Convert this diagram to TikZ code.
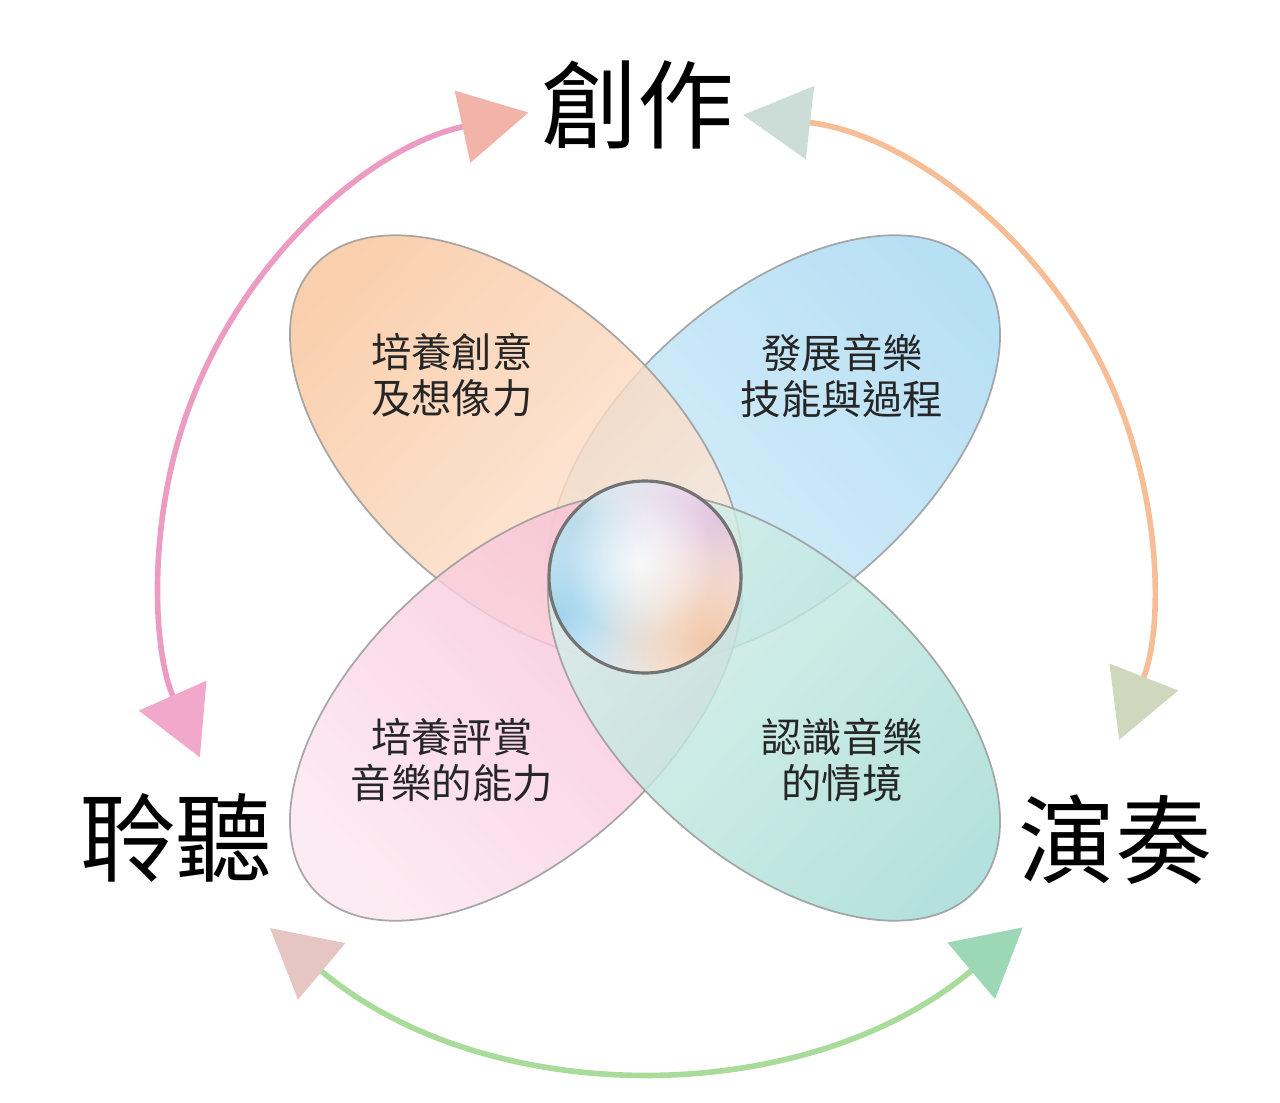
\documentclass[tikz,border=0pt]{standalone}
\usepackage{fontspec}
\newfontfamily\cjk{Noto Sans CJK TC}
\usetikzlibrary{arrows.meta,fadings}
\definecolor{orgA}{HTML}{F9C59B}
\definecolor{orgB}{HTML}{FCEADF}
\definecolor{bluA}{HTML}{A8D9F2}
\definecolor{bluB}{HTML}{D2ECF8}
\definecolor{pnkA}{HTML}{F7BCD3}
\definecolor{pnkB}{HTML}{FCE7F0}
\definecolor{grnA}{HTML}{A4DBD5}
\definecolor{grnB}{HTML}{D8F0E9}
\definecolor{rim}{HTML}{9A9A9A}
\definecolor{ccblue}{HTML}{A3D5EE}
\definecolor{cclil}{HTML}{E0C3DE}
\definecolor{ccorg}{HTML}{F0C6A6}
\definecolor{ccsky}{HTML}{C6DFEA}
\definecolor{arcpk}{HTML}{EC9CC3}
\definecolor{arcor}{HTML}{F6BE96}
\definecolor{arcgr}{HTML}{A9DC9B}
\definecolor{hdsal}{HTML}{F2B3A9}
\definecolor{hdpk}{HTML}{F1A8CB}
\definecolor{hdtea}{HTML}{CCDDD7}
\definecolor{hdoli}{HTML}{CFD7BD}
\definecolor{hdros}{HTML}{E6C6C2}
\definecolor{hdgrn}{HTML}{9DD8B6}
\tikzfading[name=blob, inner color=transparent!0, outer color=transparent!100]
\tikzset{fathead/.tip={Triangle[length=1.35cm,width=1.45cm]}}

\begin{document}
\begin{tikzpicture}[
  petal/.style={fill opacity=0.82, draw=rim, line width=1pt, draw opacity=0.85},
  small/.style={font=\cjk\fontsize{23}{26.5}\selectfont, text=black!85, align=center},
  big/.style={font=\cjk\fontsize{55}{60}\selectfont},
  ring/.style={line width=3.2pt}
]
\useasboundingbox (-12.9,-10.48) rectangle (12.7,11.56);

\shade[petal, top color=bluA, bottom color=bluB, shading angle=-48, rotate around={42:(2.58,2.58)}] (2.58,2.58) ellipse (5.45cm and 3cm);
\shade[petal, top color=orgA, bottom color=orgB, shading angle=48, rotate around={-42:(-2.58,2.58)}] (-2.58,2.58) ellipse (5.45cm and 3cm);
\shade[petal, top color=pnkA, bottom color=pnkB, shading angle=-48, rotate around={42:(-2.58,-2.58)}] (-2.58,-2.58) ellipse (5.45cm and 3cm);
\shade[petal, top color=grnB, bottom color=grnA, shading angle=48, rotate around={-42:(2.58,-2.58)}] (2.58,-2.58) ellipse (5.45cm and 3cm);

\begin{scope}
\clip (0,0.02) circle (1.92);
\fill[white] (0,0.02) circle (2);
\fill[ccsky, path fading=blob] (-1.4,1.2) circle (2.4);
\fill[ccblue, path fading=blob] (-1.7,-0.7) circle (2.5);
\fill[cclil, path fading=blob] (1.5,1.3) circle (2.4);
\fill[ccorg, path fading=blob] (1.3,-1.3) circle (2.4);
\fill[white, fill opacity=0.8, path fading=blob] (-0.1,0.3) circle (1.5);
\end{scope}
\draw[line width=1.8pt, draw=black!55] (0,0.02) circle (1.92);

\node[big] (create) at (-0.14,9.46) {創作};
\node[big] (listen) at (-9.38,-5.2) {聆聽};
\node[big] (perform) at (9.4,-5.24) {演奏};
\node[small] (imagine) at (-3.86,4.06) {培養創意\\及想像力};
\node[small] (skill) at (3.94,4.04) {發展音樂\\技能與過程};
\node[small] (appraise) at (-3.86,-3.64) {培養評賞\\音樂的能力};
\node[small] (context) at (3.94,-3.64) {認識音樂\\的情境};

\coordinate (lt) at (-2.33,9.31);
\coordinate (rt) at (1.96,9.26);
\coordinate (bl) at (-7.50,-7.00);
\draw[ring, draw=arcpk, {fathead[fill=hdsal,color=hdsal]}-{fathead[fill=hdpk,color=hdpk]}] (lt) arc[start angle=102.2, end angle=203.8, radius=9.34];
\draw[ring, draw=arcor, {fathead[fill=hdtea,color=hdtea]}-{fathead[fill=hdoli,color=hdoli]}] (rt) arc[start angle=83.5, end angle=-21.4, radius=9.2];
\draw[ring, draw=arcgr, {fathead[fill=hdros,color=hdros]}-{fathead[fill=hdgrn,color=hdgrn]}] (bl) arc[start angle=230, end angle=310.1, radius=11.7];
\end{tikzpicture}
\end{document}
